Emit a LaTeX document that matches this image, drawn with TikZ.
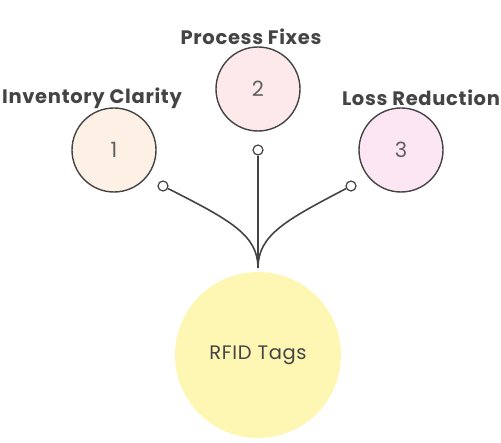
\documentclass[tikz,border=0pt]{standalone}
\usepackage{fontspec}
\setmainfont{Poppins}
\newfontfamily\spreadfont[LetterSpace=3.5]{Poppins}
\definecolor{ink}{HTML}{444444}
\definecolor{cA}{HTML}{FDF1E6}
\definecolor{cB}{HTML}{FDE9EA}
\definecolor{cC}{HTML}{FCE6F3}
\definecolor{cY}{HTML}{FEF6B3}
\begin{document}
\begin{tikzpicture}[x=1pt,y=-1pt,
  bubble/.style={circle,draw=ink,line width=1.4pt,minimum size=84pt,inner sep=0pt,font=\fontsize{21}{23}\selectfont\color{ink!85}},
  knob/.style={circle,draw=ink,line width=1.2pt,fill=white,minimum size=10pt,inner sep=0pt},
  title/.style={font=\spreadfont\fontsize{19.5}{21}\selectfont\bfseries\color{ink}},
  link/.style={draw=ink,line width=1.6pt}]
\useasboundingbox (0,0) rectangle (501,443);
\node[circle,fill=cY,minimum size=166pt,inner sep=0pt,font=\spreadfont\fontsize{19.5}{21}\selectfont\color{ink}] (root) at (258,355) {RFID Tags};
\coordinate (hub) at (258,268);
\node[bubble,fill=cA] (n1) at (114,150) {1};
\node[bubble,fill=cB] (n2) at (258,89) {2};
\node[bubble,fill=cC] (n3) at (401,150) {3};
\node[knob] (k1) at (163,186) {};
\node[knob] (k2) at (258,150) {};
\node[knob] (k3) at (351,186) {};
\draw[link] (k1) .. controls (230,220) and (258,235) .. (hub);
\draw[link] (k2) -- (hub);
\draw[link] (k3) .. controls (286,220) and (258,235) .. (hub);
\node[title] (t1) at (92,98) {Inventory Clarity};
\node[title] (t2) at (251,37) {Process Fixes};
\node[title] (t3) at (421,98) {Loss Reduction};
\end{tikzpicture}
\end{document}
